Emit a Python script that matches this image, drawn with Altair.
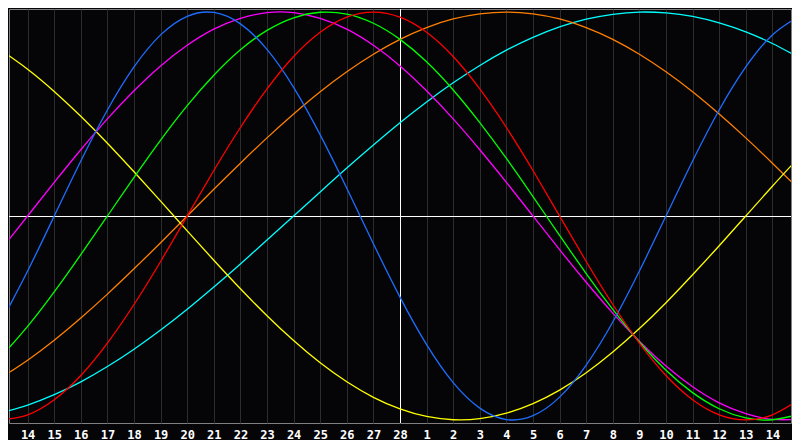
import altair as alt
import pandas as pd

# Day positions (index 0 = first "14" label), one sample per day
day_index = list(range(-1, 30))
day_labels = ["13", "14", "15", "16", "17", "18", "19", "20", "21", "22", "23", "24",
              "25", "26", "27", "28", "1", "2", "3", "4", "5", "6", "7", "8", "9",
              "10", "11", "12", "13", "14", "15"]
tick_index = list(range(0, 29))
today_index = [14]
zero_line = [0]

blue = [-0.520, -0.270, 0, 0.270, 0.520, 0.731, 0.888, 0.979, 0.998, 0.942, 0.817,
        0.631, 0.398, 0.136, -0.136, -0.398, -0.631, -0.817, -0.942, -0.998, -0.979,
        -0.888, -0.731, -0.520, -0.270, 0, 0.270, 0.520, 0.731, 0.888, 0.979]
red = [-1, -0.975, -0.901, -0.782, -0.623, -0.434, -0.223, 0, 0.223, 0.434, 0.623,
       0.782, 0.901, 0.975, 1, 0.975, 0.901, 0.782, 0.623, 0.434, 0.223, 0, -0.223,
       -0.434, -0.623, -0.782, -0.901, -0.975, -1, -0.975, -0.901]
green = [-0.690, -0.541, -0.372, -0.189, 0, 0.189, 0.372, 0.541, 0.690, 0.815, 0.910,
         0.972, 0.999, 0.990, 0.945, 0.866, 0.756, 0.618, 0.458, 0.282, 0.095, -0.095,
         -0.282, -0.458, -0.618, -0.756, -0.866, -0.945, -0.990, -0.999, -0.972]
magenta = [-0.165, 0, 0.165, 0.325, 0.476, 0.614, 0.736, 0.837, 0.916, 0.969, 0.997,
           0.997, 0.969, 0.916, 0.837, 0.736, 0.614, 0.476, 0.325, 0.165, 0, -0.165,
           -0.325, -0.476, -0.614, -0.736, -0.837, -0.916, -0.969, -0.997, -0.997]
orange = [-0.793, -0.707, -0.609, -0.5, -0.383, -0.259, -0.131, 0, 0.131, 0.259, 0.383,
          0.5, 0.609, 0.707, 0.793, 0.866, 0.924, 0.966, 0.991, 1, 0.991, 0.966, 0.924,
          0.866, 0.793, 0.707, 0.609, 0.5, 0.383, 0.259, 0.131]
cyan = [-0.965, -0.927, -0.876, -0.813, -0.738, -0.653, -0.559, -0.457, -0.348, -0.235,
        -0.118, 0, 0.118, 0.235, 0.348, 0.457, 0.559, 0.653, 0.738, 0.813, 0.876, 0.927,
        0.965, 0.989, 1.000, 0.996, 0.979, 0.947, 0.903, 0.846, 0.777]
yellow = [0.813, 0.720, 0.611, 0.489, 0.357, 0.217, 0.073, -0.073, -0.217, -0.357,
          -0.489, -0.611, -0.720, -0.813, -0.889, -0.946, -0.983, -0.999, -0.994, -0.967,
          -0.920, -0.854, -0.769, -0.667, -0.552, -0.425, -0.288, -0.146, 0, 0.146, 0.288]

series_names = ["cyan", "orange", "yellow", "magenta", "green", "blue", "red"]
series_values = [cyan, orange, yellow, magenta, green, blue, red]
series_colors = ["#00FFFF", "#FF8000", "#FFFF00", "#FF00FF", "#00FF00", "#1E6EFF", "#FF0000"]

rows = []
for name, vals in zip(series_names, series_values):
    for i, v in zip(day_index, vals):
        rows.append({"idx": i, "value": v, "series": name})
df = pd.DataFrame(rows)

label_expr = "[" + ",".join("'" + s + "'" for s in day_labels) + "][datum.value + 1]"

x_enc = alt.X(
    "idx:Q",
    scale=alt.Scale(domain=[-0.7, 28.7], nice=False, zero=False),
    axis=alt.Axis(
        values=tick_index,
        labelExpr=label_expr,
        grid=True,
        gridColor="#2C2C2C",
        gridWidth=1,
        domain=False,
        ticks=False,
        labelColor="#FFFFFF",
        labelFont="DejaVu Sans Mono",
        labelFontWeight="bold",
        labelFontSize=12,
        labelPadding=6,
        labelOverlap=False,
        labelFlush=False,
        title=None,
    ),
)
y_scale = alt.Scale(domain=[-1.015, 1.015], nice=False, zero=False)

hline = alt.Chart(pd.DataFrame({"value": zero_line})).mark_rule(
    color="#FFFFFF", strokeWidth=1, yOffset=0.5
).encode(y=alt.Y("value:Q", scale=y_scale, axis=None))

vline = alt.Chart(pd.DataFrame({"idx": today_index})).mark_rule(
    color="#FFFFFF", strokeWidth=1, xOffset=0.5
).encode(x=x_enc)

lines = alt.Chart(df).mark_line(strokeWidth=1.3, clip=True, interpolate="natural").encode(
    x=x_enc,
    y=alt.Y("value:Q", scale=y_scale, axis=None),
    color=alt.Color("series:N", scale=alt.Scale(domain=series_names, range=series_colors),
                    legend=None),
    order=alt.value(0),
)

chart = alt.layer(hline, vline, lines).properties(
    width=784,
    height=432,
    padding=0,
    background="#050508",
    autosize=alt.AutoSizeParams(type="fit", contains="padding"),
).configure_view(stroke="#808080", strokeWidth=1)

chart.save("out.html", embed_options={"renderer": "svg", "actions": False})
